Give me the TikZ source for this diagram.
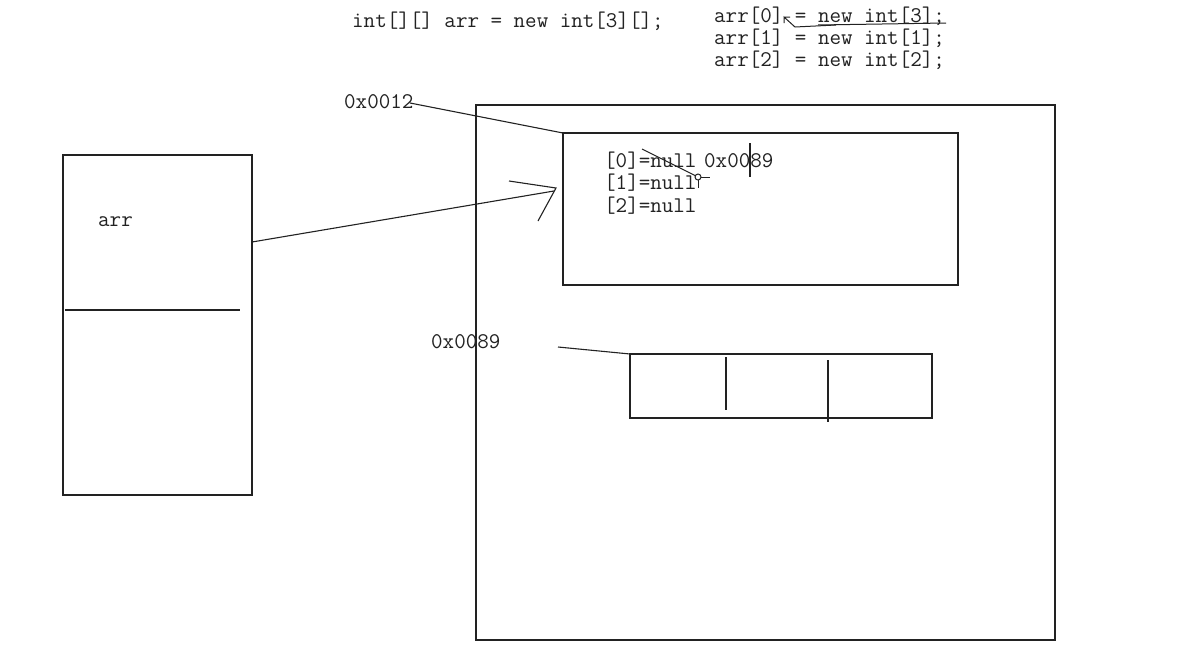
\documentclass[tikz,border=0pt]{standalone}
\usetikzlibrary{calc}
\definecolor{ink}{HTML}{222222}
\begin{document}
\begin{tikzpicture}[x=1pt,y=-1pt,
  box/.style={draw=ink,line width=1.2pt,inner sep=0pt,outer sep=0pt},
  code/.style={font=\fontsize{22.4}{25}\ttfamily,text=ink,inner sep=0pt,anchor=base west},
  stroke/.style={draw=ink,line width=1.1pt}]
\fill[white] (0,0) rectangle (1179,667);
\useasboundingbox (0,0) rectangle (1179,667);
% code at top
\node[code] (decl) at (352,27) {int[][] arr = new int[3][];};
\node[code] (l0) at (714,22) {arr[0] = new int[3];};
\node[code] (l1) at (714,44) {arr[1] = new int[1];};
\node[code] (l2) at (714,66) {arr[2] = new int[2];};
% scribbles on first line
\coordinate (u0) at (818,25);
\coordinate (u1) at (946,23);
\draw[stroke,line width=1pt] (u0) -- (u1);
\coordinate (h0) at (784,17);
\coordinate (h1) at (795,27);
\coordinate (h2) at (836,25);
\draw[stroke,line width=1pt] (h2) -- (h1) -- (h0) -- ++(0,6) (h0) -- ++(6,0);
% stack frame
\node[box,minimum width=189pt,minimum height=340pt] (stack) at (157.5,325) {};
\coordinate (sep0) at (65,310);
\coordinate (sep1) at (240,310);
\draw[stroke] (sep0) -- (sep1);
\node[code] (arrlbl) at (98,226) {arr};
% heap
\node[box,minimum width=579pt,minimum height=535pt] (heap) at (765.5,372.5) {};
\node[box,minimum width=395pt,minimum height=152pt] (outer) at (760.5,209) {};
\node[code] (e0) at (604,167) {[0]=null};
\node[code] (e0v) at (704,167) {0x0089};
\node[code] (e1) at (604,189) {[1]=null};
\node[code] (e2) at (604,212) {[2]=null};
% text cursor and mouse scribble
\coordinate (c0) at (750,143);
\coordinate (c1) at (750,177);
\draw[stroke,line width=1.5pt] (c0) -- (c1);
\coordinate (m0) at (642,149);
\coordinate (m1) at (698,177);
\draw[stroke,line width=1pt] (m0) -- (m1);
\draw[stroke,line width=1pt,fill=white] (m1) circle (3pt);
\draw[stroke,line width=1pt] (701,177) -- (710,177) (698,180) -- (698,188);
% address 0x0012
\node[code] (addr1) at (344,108) {0x0012};
\draw[stroke] (410,103) -- (outer.north west);
% arrow from arr to outer array
\coordinate (a0) at ($(stack.east)+(0,-83)$);
\coordinate (tip) at (554,191);
\coordinate (b0) at (509,181);
\coordinate (b1) at (538,221);
\draw[stroke] (a0) -- (tip);
\draw[stroke] (b0) -- (556,188) -- (b1);
% inner array
\node[code] (addr2) at (431,348) {0x0089};
\node[box,minimum width=302pt,minimum height=64pt] (inner) at (781,386) {};
\coordinate (p0) at (558,347);
\draw[stroke] (p0) -- (inner.north west);
\coordinate (d0) at (726,357);
\coordinate (d1) at (726,410);
\coordinate (d2) at (828,360);
\coordinate (d3) at (828,422);
\draw[stroke] (d0) -- (d1) (d2) -- (d3);
\end{tikzpicture}
\end{document}
